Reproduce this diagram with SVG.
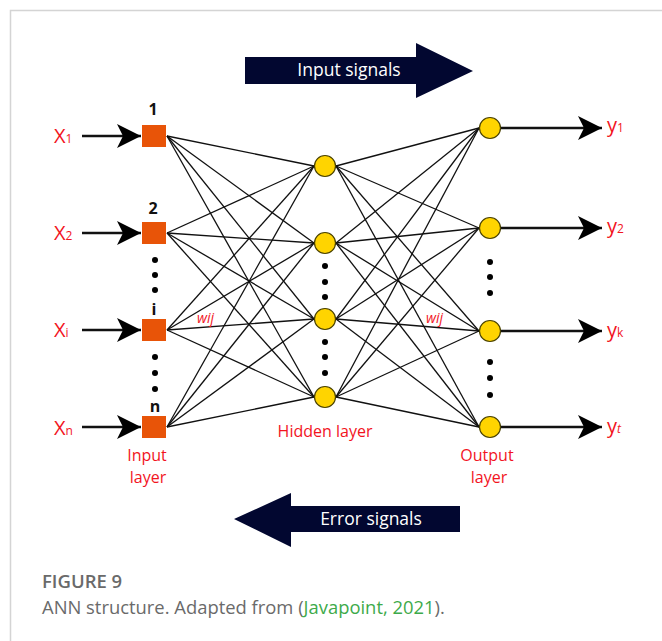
<svg xmlns="http://www.w3.org/2000/svg" width="662" height="641" viewBox="0 0 662 641">
<defs>
<marker id="ah" viewBox="0 0 24 24" markerUnits="userSpaceOnUse" markerWidth="24" markerHeight="24" refX="24" refY="12" orient="auto">
<path d="M0,0 L24,12 L0,24 L6,12 Z" fill="#000"/>
</marker>
</defs>
<style>
.frame{fill:none;stroke:#d4d4d4;stroke-width:1.5}
.w{stroke:#111;stroke-width:1.3}
.io{stroke:#111;stroke-width:2.5;marker-end:url(#ah)}
.sq{fill:#e85408}
.nd{fill:#ffd400;stroke:#4a4200;stroke-width:1.2}
.dot{fill:#000}
.red{fill:#f2141e;font-family:"Open Sans","Liberation Sans",sans-serif}
.num{fill:#111;font-family:"Open Sans","Liberation Sans",sans-serif;font-weight:bold;font-size:16px;text-anchor:middle}
.lab{font-size:16px;text-anchor:middle}
.big{font-size:20px}
.sub{font-size:12px}
.wij{font-size:14px;font-style:italic}
.sig{fill:#fff;font-family:"Open Sans","Liberation Sans",sans-serif;font-size:17.5px;text-anchor:middle}
.arrowbg{fill:#020730}
.cap{fill:#6a6a6a;font-family:"Open Sans","Liberation Sans",sans-serif}
</style>
<rect width="662" height="641" fill="#fff"/>
<path class="frame" d="M10.5,641 L10.5,10.5 L662,10.5"/>

<g id="input-signals">
<path class="arrowbg" d="M245,57 L416,57 L416,43 L473,71 L416,98 L416,84 L245,84 Z"/>
<text class="sig" x="349" y="76">Input signals</text>
</g>
<g id="error-signals">
<path class="arrowbg" d="M460,506 L291,506 L291,493 L234,519 L291,547 L291,532 L460,532 Z"/>
<text class="sig" x="371" y="525">Error signals</text>
</g>

<g id="connectors">
<line class="w" x1="167" y1="136" x2="314" y2="166"/>
<line class="w" x1="167" y1="136" x2="314" y2="243"/>
<line class="w" x1="167" y1="136" x2="314" y2="319"/>
<line class="w" x1="167" y1="136" x2="314" y2="397"/>
<line class="w" x1="167" y1="233" x2="314" y2="166"/>
<line class="w" x1="167" y1="233" x2="314" y2="243"/>
<line class="w" x1="167" y1="233" x2="314" y2="319"/>
<line class="w" x1="167" y1="233" x2="314" y2="397"/>
<line class="w" x1="167" y1="330" x2="314" y2="166"/>
<line class="w" x1="167" y1="330" x2="314" y2="243"/>
<line class="w" x1="167" y1="330" x2="314" y2="319"/>
<line class="w" x1="167" y1="330" x2="314" y2="397"/>
<line class="w" x1="167" y1="427" x2="314" y2="166"/>
<line class="w" x1="167" y1="427" x2="314" y2="243"/>
<line class="w" x1="167" y1="427" x2="314" y2="319"/>
<line class="w" x1="167" y1="427" x2="314" y2="397"/>

<line class="w" x1="336" y1="166" x2="479" y2="128"/>
<line class="w" x1="336" y1="166" x2="479" y2="228"/>
<line class="w" x1="336" y1="166" x2="479" y2="331"/>
<line class="w" x1="336" y1="166" x2="479" y2="427"/>
<line class="w" x1="336" y1="243" x2="479" y2="128"/>
<line class="w" x1="336" y1="243" x2="479" y2="228"/>
<line class="w" x1="336" y1="243" x2="479" y2="331"/>
<line class="w" x1="336" y1="243" x2="479" y2="427"/>
<line class="w" x1="336" y1="319" x2="479" y2="128"/>
<line class="w" x1="336" y1="319" x2="479" y2="228"/>
<line class="w" x1="336" y1="319" x2="479" y2="331"/>
<line class="w" x1="336" y1="319" x2="479" y2="427"/>
<line class="w" x1="336" y1="397" x2="479" y2="128"/>
<line class="w" x1="336" y1="397" x2="479" y2="228"/>
<line class="w" x1="336" y1="397" x2="479" y2="331"/>
<line class="w" x1="336" y1="397" x2="479" y2="427"/>

<line class="io" x1="82" y1="136" x2="141" y2="136"/>
<line class="io" x1="82" y1="233" x2="141" y2="233"/>
<line class="io" x1="82" y1="330" x2="141" y2="330"/>
<line class="io" x1="82" y1="427" x2="141" y2="427"/>
<line class="io" x1="500" y1="128" x2="602" y2="128"/>
<line class="io" x1="500" y1="228" x2="602" y2="228"/>
<line class="io" x1="500" y1="331" x2="602" y2="331"/>
<line class="io" x1="500" y1="427" x2="602" y2="427"/>
<text class="red wij" x="197" y="323">wij</text>
<text class="red wij" x="426" y="323">wij</text>
</g>

<g id="input-1">
<text class="num" x="153" y="115">1</text>
<rect class="sq" x="142" y="125" width="24" height="22"/>
<text class="red big" x="54" y="143">X<tspan class="sub">1</tspan></text>
</g>
<g id="input-2">
<text class="num" x="153" y="214">2</text>
<rect class="sq" x="142" y="222" width="24" height="22"/>
<text class="red big" x="54" y="240">X<tspan class="sub">2</tspan></text>
</g>
<g id="input-i">
<text class="num" x="154" y="315">i</text>
<rect class="sq" x="142" y="319" width="24" height="22"/>
<text class="red big" x="54" y="337">X<tspan class="sub">i</tspan></text>
</g>
<g id="input-n">
<text class="num" x="155" y="412">n</text>
<rect class="sq" x="142" y="416" width="24" height="22"/>
<text class="red big" x="54" y="435">X<tspan class="sub">n</tspan></text>
</g>
<g id="input-dots">
<circle class="dot" cx="155" cy="260" r="3"/>
<circle class="dot" cx="155" cy="275" r="3"/>
<circle class="dot" cx="155" cy="290" r="3"/>
<circle class="dot" cx="155" cy="357" r="3"/>
<circle class="dot" cx="155" cy="373" r="3"/>
<circle class="dot" cx="155" cy="389" r="3"/>
</g>
<g id="input-layer-label">
<text class="red lab" x="147" y="461">Input</text>
<text class="red lab" x="148" y="483">layer</text>
</g>

<g id="hidden-1"><circle class="nd" cx="325" cy="166" r="10.5"/></g>
<g id="hidden-2"><circle class="nd" cx="325" cy="243" r="10.5"/></g>
<g id="hidden-3"><circle class="nd" cx="325" cy="319" r="10.5"/></g>
<g id="hidden-4"><circle class="nd" cx="325" cy="397" r="10.5"/></g>
<g id="hidden-dots">
<circle class="dot" cx="325" cy="266" r="3"/>
<circle class="dot" cx="325" cy="282" r="3"/>
<circle class="dot" cx="325" cy="297" r="3"/>
<circle class="dot" cx="325" cy="342" r="3"/>
<circle class="dot" cx="325" cy="357" r="3"/>
<circle class="dot" cx="325" cy="373" r="3"/>
</g>
<g id="hidden-layer-label">
<text class="red lab" x="325" y="437" font-size="16.5">Hidden layer</text>
</g>

<g id="output-1">
<circle class="nd" cx="490" cy="128" r="10.5"/>
<text class="red big" x="607" y="132">y<tspan class="sub">1</tspan></text>
</g>
<g id="output-2">
<circle class="nd" cx="490" cy="228" r="10.5"/>
<text class="red big" x="607" y="233">y<tspan class="sub">2</tspan></text>
</g>
<g id="output-k">
<circle class="nd" cx="490" cy="331" r="10.5"/>
<text class="red big" x="607" y="337">y<tspan class="sub">k</tspan></text>
</g>
<g id="output-t">
<circle class="nd" cx="490" cy="427" r="10.5"/>
<text class="red big" x="607" y="433">y<tspan class="sub" font-style="italic" font-size="15">t</tspan></text>
</g>
<g id="output-dots">
<circle class="dot" cx="490" cy="262" r="3"/>
<circle class="dot" cx="490" cy="277" r="3"/>
<circle class="dot" cx="490" cy="293" r="3"/>
<circle class="dot" cx="490" cy="362" r="3"/>
<circle class="dot" cx="490" cy="378" r="3"/>
<circle class="dot" cx="490" cy="395" r="3"/>
</g>
<g id="output-layer-label">
<text class="red lab" x="487" y="461">Output</text>
<text class="red lab" x="489" y="483">layer</text>
</g>

<g id="caption">
<text class="cap" x="42" y="588" font-size="18.5" font-weight="600">FIGURE 9</text>
<text class="cap" x="42" y="614" font-size="18.4">ANN structure. Adapted from (<tspan fill="#3daa4a">Javapoint, 2021</tspan>).</text>
</g>
</svg>
